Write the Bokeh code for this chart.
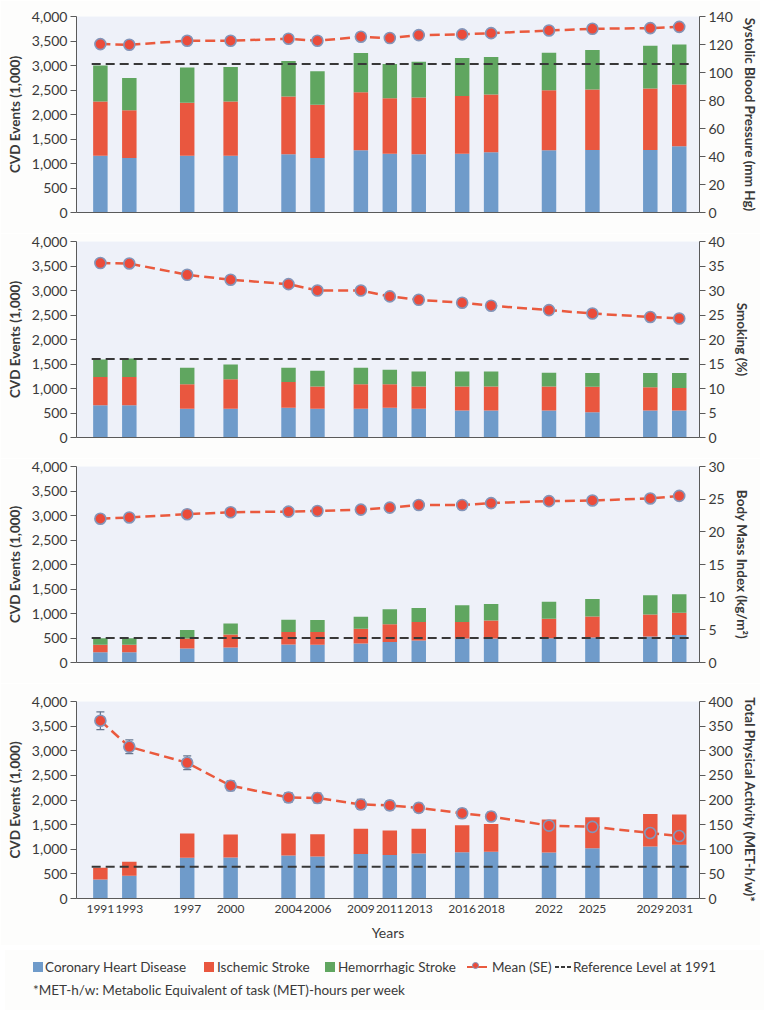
from bokeh.plotting import figure
from bokeh.layouts import column
from bokeh.models import (ColumnDataSource, Range1d, LinearAxis, FixedTicker,
                          NumeralTickFormatter, Whisker, TeeHead, Div)
from bokeh.embed import file_html
from bokeh.resources import INLINE

# ---------------- data ----------------
years = [1991, 1993, 1997, 2000, 2004, 2006, 2009, 2011, 2013, 2016, 2018, 2022, 2025, 2029, 2031]
left_ticks = [0, 500, 1000, 1500, 2000, 2500, 3000, 3500, 4000]
series_names = ["Coronary Heart Disease", "Ischemic Stroke", "Hemorrhagic Stroke"]

# Panel 1: Systolic blood pressure
chd1 = [1160, 1110, 1160, 1160, 1190, 1110, 1270, 1200, 1190, 1200, 1230, 1270, 1275, 1275, 1350]
is1 = [1105, 975, 1080, 1105, 1175, 1090, 1185, 1130, 1155, 1180, 1180, 1225, 1235, 1255, 1260]
hs1 = [735, 660, 720, 705, 725, 685, 800, 700, 730, 775, 765, 765, 805, 875, 820]
mean1 = [120.3, 119.8, 122.7, 122.7, 124.1, 122.7, 125.5, 124.6, 126.7, 127.2, 128.1, 130.0, 131.2, 131.7, 132.6]
ref1 = 3030
right_ticks1 = [0, 20, 40, 60, 80, 100, 120, 140]
right_label1 = "Systolic Blood Pressure (mm Hg)"

# Panel 2: Smoking
chd2 = [660, 660, 585, 585, 605, 585, 585, 605, 585, 550, 550, 550, 515, 550, 550]
is2 = [575, 575, 500, 605, 530, 455, 500, 480, 455, 490, 490, 490, 520, 475, 460]
hs2 = [355, 375, 340, 300, 290, 320, 340, 300, 305, 305, 305, 280, 280, 290, 305]
mean2 = [35.6, 35.5, 33.2, 32.2, 31.3, 30.0, 30.0, 28.8, 28.1, 27.5, 26.9, 26.0, 25.3, 24.6, 24.3]
ref2 = 1600
right_ticks2 = [0, 5, 10, 15, 20, 25, 30, 35, 40]
right_label2 = "Smoking (%)"

# Panel 3: Body mass index
chd3 = [210, 210, 285, 305, 365, 360, 390, 420, 450, 490, 490, 495, 510, 530, 560]
is3 = [150, 150, 205, 265, 255, 260, 300, 360, 375, 335, 365, 400, 430, 450, 455]
hs3 = [135, 135, 175, 225, 250, 245, 245, 305, 285, 345, 340, 345, 355, 395, 380]
mean3 = [22.0, 22.2, 22.7, 23.0, 23.1, 23.2, 23.4, 23.7, 24.1, 24.1, 24.4, 24.7, 24.8, 25.1, 25.5]
ref3 = 500
right_ticks3 = [0, 5, 10, 15, 20, 25, 30]
right_label3 = "Body Mass Index (kg/m\u00b2)"

# Panel 4: Total physical activity
chd4 = [385, 460, 825, 835, 875, 855, 905, 885, 915, 940, 950, 935, 1020, 1055, 1090]
is4 = [240, 285, 495, 465, 445, 450, 510, 495, 500, 545, 565, 670, 630, 660, 615]
hs4 = [0, 0, 0, 0, 0, 0, 0, 0, 0, 0, 0, 0, 0, 0, 0]
mean4 = [361, 308, 275.5, 229, 205, 204, 191, 189, 184, 173, 166.5, 148, 145.5, 133, 127]
se4 = [18, 14, 14, 10, 10, 10, 10, 9, 9, 9, 9, 7, 7, 7, 7]
ref4 = 645
right_ticks4 = [0, 50, 100, 150, 200, 250, 300, 350, 400]
right_label4 = "Total Physical Activity (MET-h/w)*"

footnote = "*MET-h/w: Metabolic Equivalent of task (MET)-hours per week"
mean_label = "Mean (SE)"
ref_label = "Reference Level at 1991"

# ---------------- style ----------------
C_CHD = "#6f9bca"
C_IS = "#e9573f"
C_HS = "#60a660"
C_LINE = "#ea5a3e"
C_MARK = "#eb4b3a"
C_MARK_EDGE = "#8395b9"
C_REF = "#383838"
BG = "#eef1f9"
PAGE = "#fdfdfc"
AX = "#5a5a5a"
TXT = "#3a3a3a"
FONT = "Lato"
X0, X1 = 1989.35, 2032.4
W = 760
LB, RB = 76, 60


def style_axis(ax, size="14px"):
    ax.axis_line_color = AX
    ax.major_tick_line_color = AX
    ax.minor_tick_line_color = None
    ax.major_tick_out = 6
    ax.major_tick_in = 0
    ax.major_label_text_font = FONT
    ax.major_label_text_font_size = size
    ax.major_label_text_color = TXT
    ax.major_label_standoff = 3
    ax.axis_label_text_font = FONT
    ax.axis_label_text_font_size = "13.5px"
    ax.axis_label_text_font_style = "bold"
    ax.axis_label_text_color = TXT
    ax.axis_label_standoff = 6


def make_panel(chd, isc, hs, mean, ref, rticks, rlabel, height, top, bottom, last=False, se=None):
    p = figure(width=W, height=height, x_range=Range1d(X0, X1), y_range=Range1d(0, 4000),
               min_border_left=LB, min_border_right=RB, min_border_top=top, min_border_bottom=bottom,
               toolbar_location=None, output_backend="svg")
    p.background_fill_color = BG
    p.border_fill_color = PAGE
    p.outline_line_color = None
    p.xgrid.visible = False
    p.ygrid.visible = False

    src = ColumnDataSource(dict(year=years, chd=chd, isc=isc, hs=hs, mean=mean))
    p.vbar_stack(["chd", "isc", "hs"], x="year", width=1.0, fill_color=[C_CHD, C_IS, C_HS],
                 line_color=None, source=src)
    p.line(x=[years[0] - 0.6, years[-1] + 0.9], y=[ref, ref], line_color=C_REF,
           line_width=2, line_dash="9 5")

    p.extra_y_ranges = {"r": Range1d(0, rticks[-1])}
    p.line(x="year", y="mean", source=src, y_range_name="r", line_color=C_LINE,
           line_width=2.5, line_dash="10 5")
    if se is not None:
        src.data["upper"] = [m + s for m, s in zip(mean, se)]
        src.data["lower"] = [m - s for m, s in zip(mean, se)]
        w = Whisker(source=src, base="year", upper="upper", lower="lower", dimension="height",
                    y_range_name="r", line_color="#67778f", line_width=1.3,
                    upper_head=TeeHead(size=8, line_color="#67778f", line_width=1.3),
                    lower_head=TeeHead(size=8, line_color="#67778f", line_width=1.3))
        p.add_layout(w)
    p.scatter(x="year", y="mean", source=src, y_range_name="r", size=11,
              fill_color=C_MARK, line_color=C_MARK_EDGE, line_width=1.6)

    # left axis
    p.yaxis.ticker = FixedTicker(ticks=left_ticks)
    p.yaxis.formatter = NumeralTickFormatter(format="0,0")
    p.yaxis.axis_label = "CVD Events (1,000)"
    style_axis(p.yaxis[0])

    # right axis
    rax = LinearAxis(y_range_name="r", ticker=FixedTicker(ticks=rticks), axis_label=rlabel)
    style_axis(rax)
    p.add_layout(rax, "right")

    # bottom axis
    xa = p.xaxis[0]
    xa.axis_line_color = AX
    xa.major_tick_line_color = None
    xa.minor_tick_line_color = None
    xa.major_tick_out = 0
    if last:
        xa.ticker = FixedTicker(ticks=years)
        xa.major_label_text_font = FONT
        xa.major_label_text_font_size = "12px"
        xa.major_label_text_color = TXT
        xa.major_label_standoff = 6
        xa.axis_label = "Years"
        xa.axis_label_text_font = FONT
        xa.axis_label_text_font_size = "14px"
        xa.axis_label_text_font_style = "normal"
        xa.axis_label_text_color = TXT
        xa.axis_label_standoff = 8
    else:
        xa.ticker = FixedTicker(ticks=[])
        xa.major_label_text_font_size = "0px"
    return p


p1 = make_panel(chd1, is1, hs1, mean1, ref1, right_ticks1, right_label1, 233, 16, 21)
p2 = make_panel(chd2, is2, hs2, mean2, ref2, right_ticks2, right_label2, 225, 8, 21)
p3 = make_panel(chd3, is3, hs3, mean3, ref3, right_ticks3, right_label3, 225, 8, 21)
p4 = make_panel(chd4, is4, hs4, mean4, ref4, right_ticks4, right_label4, 262, 18, 47,
                last=True, se=se4)

# ---------------- legend + footnote (HTML) ----------------
def box(left, top, w, h, extra=""):
    return (f'<span style="position:absolute;left:{left}px;top:{top}px;width:{w}px;'
            f'height:{h}px;{extra}"></span>')


def txt(left, top, s):
    return f'<span style="position:absolute;left:{left}px;top:{top}px;">{s}</span>'


ROW, NOTE = 9, 32
parts = [
    box(28, ROW + 3, 10, 10, f"background:{C_CHD};"), txt(40, ROW, series_names[0]),
    box(199, ROW + 3, 10, 10, f"background:{C_IS};"), txt(212, ROW, series_names[1]),
    box(320, ROW + 3, 10, 10, f"background:{C_HS};"), txt(333, ROW, series_names[2]),
    box(462, ROW + 7, 20, 2, f"background:{C_LINE};"),
    box(467, ROW + 3, 7, 7, f"background:{C_MARK};border:1.5px solid {C_MARK_EDGE};border-radius:50%;"),
    txt(487, ROW, mean_label),
    box(550, ROW + 7, 4, 2, f"background:{C_REF};"),
    box(556, ROW + 7, 4, 2, f"background:{C_REF};"),
    box(562, ROW + 7, 4, 2, f"background:{C_REF};"),
    txt(568, ROW, ref_label),
    txt(28, NOTE, footnote),
]
html = (f'<div style="position:relative;width:{W}px;height:60px;font-family:Lato;'
        f'font-size:13.5px;line-height:16px;color:{TXT};white-space:nowrap;background:{PAGE};">'
        + "".join(parts) + "</div>")
legend_div = Div(text=html, width=W, height=60)

layout = column(p1, p2, p3, p4, legend_div, spacing=0)
open("out.html", "w").write(file_html(layout, INLINE))
